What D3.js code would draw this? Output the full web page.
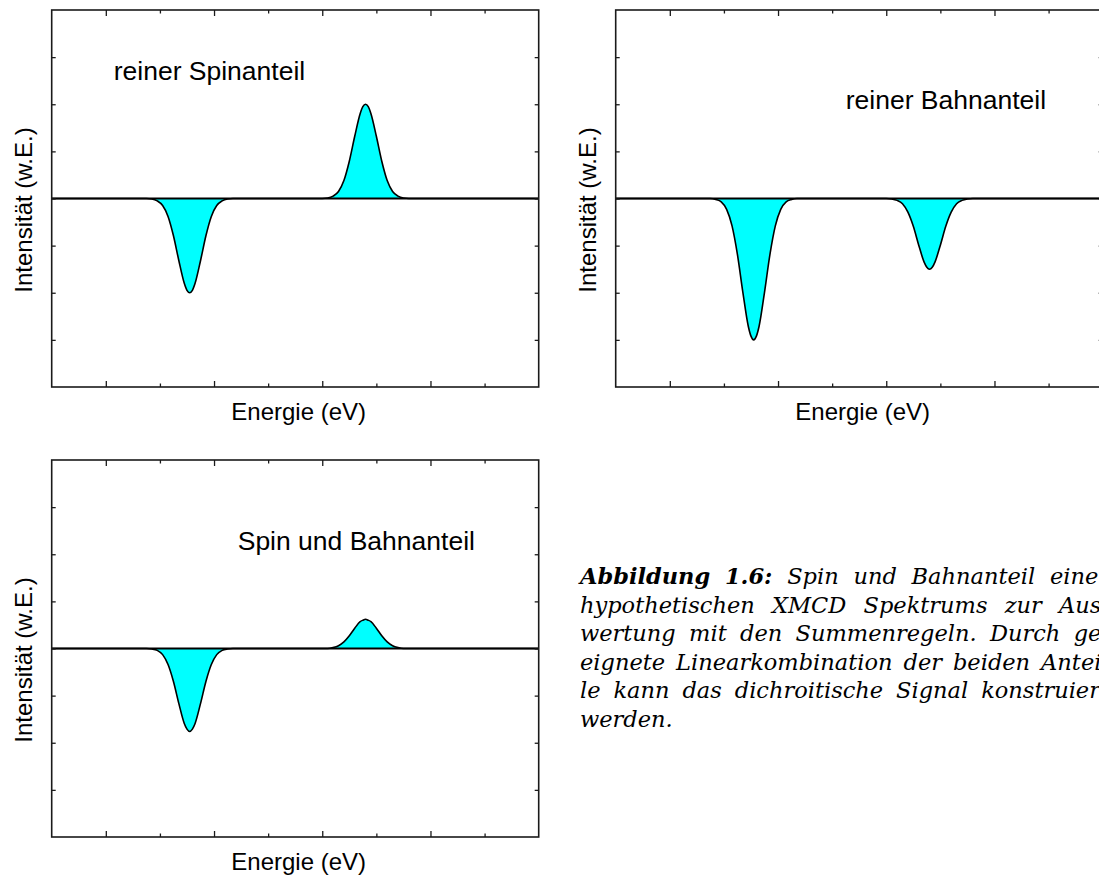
<!DOCTYPE html>
<html>
<head>
<meta charset="utf-8">
<script src="https://cdn.jsdelivr.net/npm/d3@7"></script>
<style>
  html, body { margin: 0; padding: 0; background: #fff; overflow: hidden; }
  svg { display: block; }
</style>
</head>
<body>
<svg id="fig" width="1099" height="877"></svg>
<script>
(function(){

	// Data
	var energy = [0,
		1.75, 1.85, 1.95, 2.05, 2.15, 2.25, 2.35, 2.45, 2.5, 2.55, 2.6, 2.65, 2.75, 2.85, 2.95, 3.05, 3.15, 3.25, 3.35,
		5.0, 5.1, 5.2, 5.3, 5.4, 5.5, 5.6, 5.7, 5.75, 5.8, 5.85, 5.9, 6.0, 6.1, 6.2, 6.3, 6.4, 6.5, 6.6,
		9];
	var spinValues = [0,
		0, -0.01, -0.05, -0.15, -0.38, -0.79, -1.32, -1.8, -1.95, -2, -1.95, -1.8, -1.32, -0.79, -0.38, -0.15, -0.05, -0.01, 0,
		0, 0.01, 0.05, 0.15, 0.38, 0.79, 1.32, 1.8, 1.95, 2, 1.95, 1.8, 1.32, 0.79, 0.38, 0.15, 0.05, 0.01, 0,
		0];
	var orbitValues = [0,
		0, -0.02, -0.07, -0.23, -0.58, -1.19, -1.99, -2.71, -2.92, -3, -2.92, -2.71, -1.99, -1.19, -0.58, -0.23, -0.07, -0.02, 0,
		0, -0.01, -0.04, -0.11, -0.29, -0.59, -0.99, -1.35, -1.46, -1.5, -1.46, -1.35, -0.99, -0.59, -0.29, -0.11, -0.04, -0.01, 0,
		0];
	var sumValues = [0,
		0, -0.01, -0.04, -0.13, -0.34, -0.7, -1.17, -1.59, -1.71, -1.76, -1.71, -1.59, -1.17, -0.7, -0.34, -0.13, -0.04, -0.01, 0,
		0, 0, 0.02, 0.06, 0.14, 0.27, 0.43, 0.57, 0.6, 0.62, 0.6, 0.57, 0.43, 0.27, 0.14, 0.06, 0.02, 0, 0,
		0];

	var xMajorTicks = [1, 3, 5, 7];
	var xMinorTicks = [2, 4, 6, 8];
	var yTicks = [-3, -2, -1, 0, 1, 2, 3];
	var panelTitles = ["reiner Spinanteil", "reiner Bahnanteil", "Spin und Bahnanteil"];
	var xLabel = "Energie (eV)";
	var yLabel = "Intensität (w.E.)";

	var captionLines = [
		[{t: "Abbildung", b: true}, {t: "1.6:", b: true}, {t: "Spin"}, {t: "und"}, {t: "Bahnanteil"}, {t: "einer"}],
		[{t: "hypothetischen"}, {t: "XMCD"}, {t: "Spektrums"}, {t: "zur"}, {t: "Aus-"}],
		[{t: "wertung"}, {t: "mit"}, {t: "den"}, {t: "Summenregeln."}, {t: "Durch"}, {t: "ge-"}],
		[{t: "eignete"}, {t: "Linearkombination"}, {t: "der"}, {t: "beiden"}, {t: "Antei-"}],
		[{t: "le"}, {t: "kann"}, {t: "das"}, {t: "dichroitische"}, {t: "Signal"}, {t: "konstruiert"}],
		[{t: "werden."}]
	];

	//Panel configurations
	var panelW = 487, panelH = 377;
	var panels = [
		{left: 51.7, top: 10, values: spinValues, title: panelTitles[0], tx: 62, ty: 70},
		{left: 615.7, top: 10, values: orbitValues, title: panelTitles[1], tx: 230, ty: 99},
		{left: 51.7, top: 460, values: sumValues, title: panelTitles[2], tx: 186, ty: 90}
	];
	var sansFont = "'Liberation Sans', Arial, sans-serif";
	var frameColor = "#1a1a1a";

	var svg = d3.select("#fig");

	var x = d3.scaleLinear().domain([0, 9]).range([0, panelW]);
	var y = d3.scaleLinear().domain([-4, 4]).range([panelH, 0]);

	var points = energy.map(function(e, i){ return i; });

	panels.forEach(drawPanel);
	drawCaption();

	function drawPanel(p){
		var g = svg.append("g")
			.attr("transform", "translate(" + p.left + "," + p.top + ")");

		var area = d3.area()
			.curve(d3.curveMonotoneX)
			.x(function(i){ return x(energy[i]); })
			.y0(y(0))
			.y1(function(i){ return y(p.values[i]); });
		var line = d3.line()
			.curve(d3.curveMonotoneX)
			.x(function(i){ return x(energy[i]); })
			.y(function(i){ return y(p.values[i]); });

		g.append("path")
			.attr("d", area(points))
			.attr("fill", "#00ffff");
		g.append("path")
			.attr("d", line(points))
			.attr("fill", "none")
			.attr("stroke", "#000")
			.attr("stroke-width", 1.6);

		//zero line
		g.append("line")
			.attr("x1", 0).attr("x2", panelW)
			.attr("y1", y(0)).attr("y2", y(0))
			.attr("stroke", "#000")
			.attr("stroke-width", 2.2);

		//ticks, all pointing inward
		addAxis(g, d3.axisBottom(x).tickValues(xMajorTicks).tickSize(-6), "translate(0," + panelH + ")");
		addAxis(g, d3.axisBottom(x).tickValues(xMinorTicks).tickSize(-3.5), "translate(0," + panelH + ")");
		addAxis(g, d3.axisTop(x).tickValues(xMajorTicks).tickSize(-6), null);
		addAxis(g, d3.axisTop(x).tickValues(xMinorTicks).tickSize(-3.5), null);
		addAxis(g, d3.axisLeft(y).tickValues(yTicks).tickSize(-4), null);
		addAxis(g, d3.axisRight(y).tickValues(yTicks).tickSize(-4), "translate(" + panelW + ",0)");

		//frame
		g.append("rect")
			.attr("width", panelW)
			.attr("height", panelH)
			.attr("fill", "none")
			.attr("stroke", frameColor)
			.attr("stroke-width", 1.6);

		g.append("text")
			.attr("x", p.tx)
			.attr("y", p.ty)
			.attr("font-family", sansFont)
			.attr("font-size", "26.5px")
			.attr("fill", "#000")
			.text(p.title);

		g.append("text")
			.attr("x", 247)
			.attr("y", panelH + 33)
			.attr("text-anchor", "middle")
			.attr("font-family", sansFont)
			.attr("font-size", "24px")
			.attr("fill", "#000")
			.text(xLabel);

		g.append("text")
			.attr("transform", "translate(-20," + 200 + ") rotate(-90)")
			.attr("text-anchor", "middle")
			.attr("font-family", sansFont)
			.attr("font-size", "24px")
			.attr("fill", "#000")
			.text(yLabel);
	}

	function addAxis(g, axis, transform){
		var a = g.append("g").call(axis.tickFormat(""));
		if(transform) a.attr("transform", transform);
		a.select(".domain").remove();
		a.selectAll(".tick line")
			.attr("stroke", frameColor)
			.attr("stroke-width", 1.3);
	}

	//justified caption lines, the right end runs past the picture edge
	function drawCaption(){
		var left = 580, right = 1109, top = 584, lineGap = 28.6;
		captionLines.forEach(function(words, li){
			var t = svg.append("text")
				.attr("y", top + li * lineGap)
				.attr("font-family", "'DejaVu Serif', serif")
				.attr("font-style", "italic")
				.attr("font-size", "22.5px")
				.attr("fill", "#000");
			var spans = words.map(function(w){
				return t.append("tspan")
					.attr("font-weight", w.b ? "bold" : "normal")
					.text(w.t);
			});
			var widths = spans.map(function(s){ return s.node().getComputedTextLength(); });
			var total = d3.sum(widths);
			var last = li === captionLines.length - 1;
			var gap = (!last && words.length > 1) ? Math.max(5, (right - left - total) / (words.length - 1)) : 6;
			var pos = left;
			spans.forEach(function(s, i){
				s.attr("x", pos);
				pos += widths[i] + gap;
			});
		});
	}

})();
</script>
</body>
</html>
